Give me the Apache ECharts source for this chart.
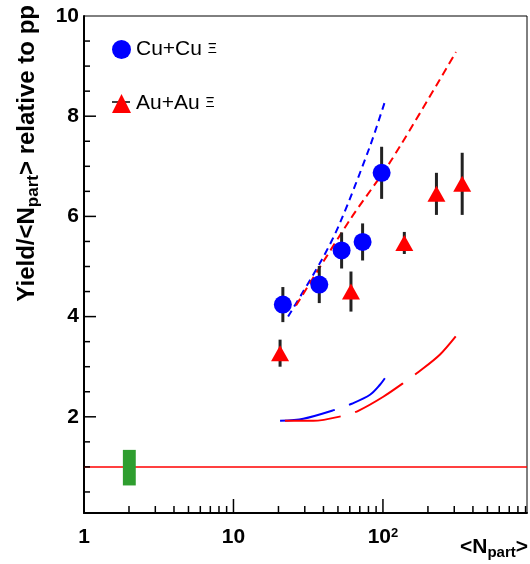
<!DOCTYPE html>
<html>
<head>
<meta charset="utf-8">
<script src="https://cdn.jsdelivr.net/npm/echarts@6/dist/echarts.min.js"></script>
<style>
  html, body { margin: 0; padding: 0; background: #fff; }
  #chart { width: 530px; height: 564px; }
</style>
</head>
<body>
<div id="chart"></div>
<script>
// Cu+Cu Xi points
const cuNpart = [21.4, 37.5, 52.9, 73.1, 98]
const cuYield = [4.24, 4.64, 5.32, 5.49, 6.87]
const cuErr = [0.35, 0.37, 0.36, 0.37, 0.52]

// Au+Au Xi points
const auNpart = [20.5, 61.1, 139, 228, 339]
const auYield = [3.27, 4.50, 5.47, 6.45, 6.65]
const auErr = [0.27, 0.40, 0.22, 0.42, 0.62]

// model curves (upper: dashed, lower: long dashes)
const cuUpperX = [23.2, 38.9, 51.6, 81.9, 103]
const cuUpperY = [4.0, 5.13, 5.87, 7.40, 8.29]
const auUpperX = [26.2, 60.1, 114.3, 307.7]
const auUpperY = [4.22, 5.93, 7.13, 9.28]
const cuLowerX = [20.5, 29.3, 49.0, 61.8, 81.9, 95.5, 103]
const cuLowerY = [1.92, 1.96, 2.15, 2.26, 2.44, 2.64, 2.77]
const auLowerX = [22.1, 34.2, 54.2, 68.4, 100.5, 144, 172, 240, 319]
const auLowerY = [1.92, 1.92, 2.02, 2.12, 2.40, 2.72, 2.89, 3.24, 3.67]

// pp reference line and its normalisation box
const ppX = [1, 920]
const ppY = [1, 1]
const ppBoxX = [1.82, 2.22]
const ppBoxY = [0.63, 1.34]

// axis ticks
const xMajorTicks = [10, 100]
const xMinorTicks = [2, 3, 4, 5, 6, 7, 8, 9, 20, 30, 40, 50, 60, 70, 80, 90, 200, 300, 400, 500, 600, 700, 800, 900]
const yMajorTicks = [2, 4, 6, 8]
const yMinorTicks = [0.5, 1, 1.5, 2.5, 3, 3.5, 4.5, 5, 5.5, 6.5, 7, 7.5, 8.5, 9, 9.5]

const X_MIN = 1
const X_MAX = 920
const Y_MIN = 0.08
const Y_MAX = 10
const FONT = 'Liberation Sans'

const chart = echarts.init(document.getElementById('chart'))

const pairs = (xs, ys) => xs.map((x, i) => [x, ys[i]])

// vertical error bars
const errorBars = (xs, ys, es) => ({
  type: 'custom',
  data: xs.map((x, i) => [x, ys[i] - es[i], ys[i] + es[i]]),
  renderItem: (params, api) => {
    const lo = api.coord([api.value(0), api.value(1)])
    const hi = api.coord([api.value(0), api.value(2)])
    return {
      type: 'line',
      shape: { x1: lo[0], y1: lo[1], x2: hi[0], y2: hi[1] },
      style: { stroke: '#222', lineWidth: 3 }
    }
  },
  z: 3,
  silent: true
})

// ROOT-like inside ticks
const xTicks = (vals, len) => ({
  type: 'custom',
  data: vals.map(v => [v, Y_MIN]),
  clip: false,
  renderItem: (params, api) => {
    const p = api.coord([api.value(0), api.value(1)])
    return {
      type: 'line',
      shape: { x1: p[0], y1: p[1], x2: p[0], y2: p[1] - len },
      style: { stroke: '#000', lineWidth: 1.5 }
    }
  },
  z: 5,
  silent: true
})

const yTicks = (vals, len) => ({
  type: 'custom',
  data: vals.map(v => [X_MIN, v]),
  clip: false,
  renderItem: (params, api) => {
    const p = api.coord([api.value(0), api.value(1)])
    return {
      type: 'line',
      shape: { x1: p[0], y1: p[1], x2: p[0] + len, y2: p[1] },
      style: { stroke: '#000', lineWidth: 1.5 }
    }
  },
  z: 5,
  silent: true
})

const option = {
  animation: false,
  grid: {
    left: 84, right: 3, top: 16, bottom: 51,
    show: true, borderColor: '#000', borderWidth: 1
  },
  xAxis: {
    type: 'log',
    logBase: 10,
    min: X_MIN,
    max: X_MAX,
    axisLine: { onZero: false, lineStyle: { color: '#000', width: 2 } },
    axisTick: { show: false },
    splitLine: { show: false },
    axisLabel: {
      margin: 14,
      color: '#000',
      fontSize: 21,
      fontWeight: 'bold',
      fontFamily: FONT,
      formatter: v => {
        const r = Math.round(v)
        if (r === 1) return '1'
        if (r === 10) return '10'
        if (r === 100) return '10{s|2}'
        return ''
      },
      rich: {
        s: { fontSize: 13, fontWeight: 'bold', fontFamily: FONT, color: '#000', padding: [0, 0, 8, 0] }
      }
    }
  },
  yAxis: {
    type: 'value',
    min: Y_MIN,
    max: Y_MAX,
    splitNumber: 5,
    axisLine: { show: true, lineStyle: { color: '#000', width: 2 } },
    axisTick: { show: false },
    splitLine: { show: false },
    axisLabel: {
      margin: 5,
      color: '#000',
      fontSize: 21,
      fontWeight: 'bold',
      fontFamily: FONT,
      formatter: v => (v < 1 ? '' : String(Math.round(v)))
    }
  },
  legend: {
    orient: 'vertical',
    left: 112,
    top: 39,
    padding: 0,
    itemWidth: 19,
    itemHeight: 19,
    itemGap: 33,
    data: [
      { name: 'Cu+Cu Ξ', icon: 'circle' },
      { name: 'Au+Au Ξ', icon: 'triangle' }
    ],
    formatter: n => '{a|' + n.replace(' Ξ', '') + '} {b|Ξ}',
    textStyle: {
      color: '#000',
      fontFamily: FONT,
      fontSize: 21,
      rich: {
        a: { fontSize: 21, fontFamily: FONT, color: '#000' },
        b: { fontSize: 14, fontFamily: FONT, color: '#000' }
      }
    }
  },
  graphic: [
    {
      type: 'line',
      shape: { x1: 112, y1: 102, x2: 130, y2: 102 },
      style: { stroke: '#000', lineWidth: 1.5 },
      z: 1
    },
    {
      type: 'text',
      x: 27,
      y: 5,
      rotation: Math.PI / 2,
      style: {
        text: '{m|Yield/<N}{s|part}{m|> relative to pp}',
        align: 'right',
        verticalAlign: 'middle',
        rich: {
          m: { fontSize: 24, fontWeight: 'bold', fontFamily: FONT, fill: '#000' },
          s: { fontSize: 17, fontWeight: 'bold', fontFamily: FONT, fill: '#000', padding: [13, 0, 0, 0] }
        }
      }
    },
    {
      type: 'text',
      x: 528,
      y: 547,
      style: {
        text: '{m|<N}{s|part}{m|>}',
        align: 'right',
        verticalAlign: 'middle',
        rich: {
          m: { fontSize: 21, fontWeight: 'bold', fontFamily: FONT, fill: '#000' },
          s: { fontSize: 15, fontWeight: 'bold', fontFamily: FONT, fill: '#000', padding: [12, 0, 0, 0] }
        }
      }
    }
  ],
  series: [
    {
      name: 'pp',
      type: 'line',
      data: pairs(ppX, ppY),
      showSymbol: false,
      lineStyle: { color: '#ff0000', width: 1.5 },
      z: 2,
      silent: true
    },
    {
      name: 'ppBox',
      type: 'custom',
      data: [[ppBoxX[0], ppBoxY[0], ppBoxX[1], ppBoxY[1]]],
      renderItem: (params, api) => {
        const a = api.coord([api.value(0), api.value(1)])
        const b = api.coord([api.value(2), api.value(3)])
        return {
          type: 'rect',
          shape: { x: a[0], y: b[1], width: b[0] - a[0], height: a[1] - b[1] },
          style: { fill: '#2f9e2f' }
        }
      },
      z: 3,
      silent: true
    },
    {
      name: 'cuUpper',
      type: 'line',
      data: pairs(cuUpperX, cuUpperY),
      smooth: 0.3,
      showSymbol: false,
      lineStyle: { color: '#0000ff', width: 2, type: [7, 5] },
      z: 2,
      silent: true
    },
    {
      name: 'auUpper',
      type: 'line',
      data: pairs(auUpperX, auUpperY),
      smooth: 0.3,
      showSymbol: false,
      lineStyle: { color: '#ff0000', width: 2, type: [8, 5] },
      z: 2,
      silent: true
    },
    {
      name: 'cuLower',
      type: 'line',
      data: pairs(cuLowerX, cuLowerY),
      smooth: 0.3,
      showSymbol: false,
      lineStyle: { color: '#0000ff', width: 2, type: [56, 15] },
      z: 2,
      silent: true
    },
    {
      name: 'auLower',
      type: 'line',
      data: pairs(auLowerX, auLowerY),
      smooth: 0.3,
      showSymbol: false,
      lineStyle: { color: '#ff0000', width: 2, type: [56, 15] },
      z: 2,
      silent: true
    },
    errorBars(cuNpart, cuYield, cuErr),
    errorBars(auNpart, auYield, auErr),
    {
      name: 'Cu+Cu Ξ',
      type: 'scatter',
      data: pairs(cuNpart, cuYield),
      symbol: 'circle',
      symbolSize: 18,
      itemStyle: { color: '#0000ff', opacity: 1 },
      z: 4
    },
    {
      name: 'Au+Au Ξ',
      type: 'scatter',
      data: pairs(auNpart, auYield),
      symbol: 'triangle',
      symbolSize: [18, 16],
      itemStyle: { color: '#ff0000', opacity: 1 },
      z: 4
    },
    xTicks(xMajorTicks, 14),
    xTicks(xMinorTicks, 7),
    yTicks(yMajorTicks, 12),
    yTicks(yMinorTicks, 6)
  ]
}

chart.setOption(option)
window.addEventListener('resize', () => chart.resize())
</script>
</body>
</html>
